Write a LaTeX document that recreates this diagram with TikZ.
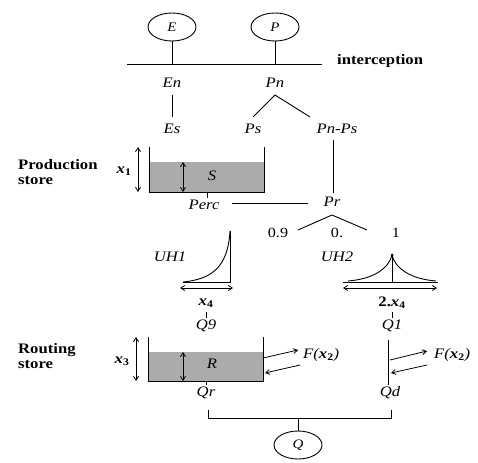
\documentclass[tikz,border=0pt]{standalone}
\usepackage{fontspec}
\setmainfont{Liberation Serif}[FakeStretch=1.15]
\usetikzlibrary{shapes.geometric,arrows.meta}
\begin{document}
\begin{tikzpicture}[x=1pt,y=-1pt,
  lbl/.style={inner sep=2pt,font=\fontsize{14.5}{16}\selectfont\itshape},
  bxl/.style={inner sep=1pt,font=\fontsize{14.5}{16}\selectfont\bfseries},
  numl/.style={inner sep=1pt,font=\fontsize{14}{16}\selectfont},
  xl/.style={inner sep=0pt,font=\fontsize{14.5}{16}\selectfont\bfseries\itshape},
  sidelbl/.style={inner sep=0pt,anchor=west,align=left,font=\fontsize{14.5}{15}\selectfont\bfseries},
  circ/.style={ellipse,draw,line width=0.9pt,minimum width=48pt,minimum height=28pt,inner sep=0pt,font=\fontsize{13}{14}\selectfont\itshape},
  ln/.style={line width=0.9pt},
  dbl/.style={line width=0.8pt,{Straight Barb[length=4pt,width=5pt]}-{Straight Barb[length=4pt,width=5pt]}},
  sarr/.style={line width=0.8pt,-{Straight Barb[length=4pt,width=5pt]}},
  water/.style={fill=black!33}]
\useasboundingbox (0,0) rectangle (478,462);
% top
\node[circ] (E) at (172,27) {E};
\node[circ] (P) at (275,27) {P};
\coordinate (hl) at (127,64);
\coordinate (hr) at (322,64);
\coordinate (eJ) at (172,64);
\coordinate (pJ) at (275,64);
\draw[ln] (hl) -- (hr);
\draw[ln] (E) -- (eJ);
\draw[ln] (P) -- (pJ);
\node[bxl,anchor=west] (icp) at (336,61) {interception};
\node[lbl] (En) at (172,83) {En};
\node[lbl] (Pn) at (275,83) {Pn};
\node[lbl] (Es) at (172,129) {Es};
\node[lbl] (Ps) at (253,129) {Ps};
\node[lbl] (PnPs) at (337,129) {Pn-Ps};
\coordinate (enB) at (172,95);
\coordinate (esT) at (172,117);
\draw[ln] (enB) -- (esT);
\coordinate (pnA) at (275,95);
\coordinate (pnL) at (253,117);
\coordinate (pnR) at (310,117);
\draw[ln] (pnL) -- (pnA) -- (pnR);
% production store
\fill[water] (149,162) rectangle (264,192);
\coordinate (psTL) at (149,147);
\coordinate (psBL) at (149,192);
\coordinate (psBR) at (264,192);
\coordinate (psTR) at (264,147);
\draw[ln] (psTL) -- (psBL) -- (psBR) -- (psTR);
\node[lbl] (S) at (212,176) {S};
\coordinate (x1T) at (138,147);
\coordinate (x1B) at (138,192);
\draw[dbl] (x1T) -- (x1B);
\coordinate (sT) at (183,162);
\coordinate (sB) at (183,192);
\draw[dbl] (sT) -- (sB);
\node[xl] (x1) at (124,171) {x\textsubscript{\upshape 1}};
\node[sidelbl] (prodlbl) at (18,172) {Production\\store};
\coordinate (percT) at (207,192);
\coordinate (percB) at (207,198);
\draw[ln] (percT) -- (percB);
\node[lbl] (Perc) at (204,205) {Perc};
\node[lbl] (Pr) at (332,202) {Pr};
\coordinate (ppT) at (333,140);
\coordinate (ppB) at (333,193);
\draw[ln] (ppT) -- (ppB);
\coordinate (percR) at (232,203);
\coordinate (prL) at (308,203);
\draw[ln] (percR) -- (prL);
\coordinate (prA) at (332,215);
\coordinate (prL2) at (298,230);
\coordinate (prR2) at (367,230);
\draw[ln] (prL2) -- (prA) -- (prR2);
\node[numl] (n09) at (278,233) {0.9};
\node[numl] (n0) at (337,233) {0.};
\node[numl] (n1) at (396,233) {1};
% unit hydrographs
\node[lbl] (UH1) at (170,257) {UH1};
\node[lbl] (UH2) at (337,257) {UH2};
\coordinate (u1a) at (183,282);
\coordinate (u1b) at (230,282);
\coordinate (u1c) at (230,231);
\draw[ln] (u1a) -- (u1b) -- (u1c);
\draw[ln] (u1a) .. controls (214,279) and (228,265) .. (u1c);
\coordinate (u1l) at (180,288);
\coordinate (u1r) at (233,288);
\draw[dbl] (u1l) -- (u1r);
\coordinate (u2a) at (343,282);
\coordinate (u2b) at (438,282);
\coordinate (u2p) at (392,255);
\coordinate (u2m) at (392,282);
\coordinate (u2c1) at (348,281);
\coordinate (u2c2) at (436,281);
\draw[ln] (u2a) -- (u2b);
\draw[ln] (u2p) -- (u2m);
\draw[ln] (u2c1) .. controls (374,279) and (389,268) .. (u2p);
\draw[ln] (u2p) .. controls (395,268) and (410,279) .. (u2c2);
\fill (u2p) circle (1.5pt);
\coordinate (u2l) at (343,288);
\coordinate (u2r) at (437,288);
\draw[dbl] (u2l) -- (u2r);
\node[xl] (x4) at (206,303) {x\textsubscript{\upshape 4}};
\node[inner sep=1pt,font=\fontsize{14.5}{16}\selectfont\bfseries] (x4b) at (392,303) {2.\textit{x}\textsubscript{4}};
\coordinate (t1a) at (206,312);
\coordinate (t1b) at (206,318);
\coordinate (t2a) at (392,312);
\coordinate (t2b) at (392,318);
\draw[ln] (t1a) -- (t1b);
\draw[ln] (t2a) -- (t2b);
\node[lbl] (Q9) at (206,326) {Q9};
\node[lbl] (Q1) at (392,326) {Q1};
% routing store
\fill[water] (148,352) rectangle (263,381);
\coordinate (rsTL) at (148,337);
\coordinate (rsBL) at (148,381);
\coordinate (rsBR) at (263,381);
\coordinate (rsTR) at (263,337);
\draw[ln] (rsTL) -- (rsBL) -- (rsBR) -- (rsTR);
\node[lbl] (R) at (212,364) {R};
\coordinate (x3T) at (136,337);
\coordinate (x3B) at (136,381);
\draw[dbl] (x3T) -- (x3B);
\coordinate (rT) at (183,352);
\coordinate (rB) at (183,381);
\draw[dbl] (rT) -- (rB);
\node[xl] (x3) at (122,361) {x\textsubscript{\upshape 3}};
\node[sidelbl] (routlbl) at (18,356) {Routing\\store};
\coordinate (f1a) at (263,358);
\coordinate (f1b) at (298,350);
\coordinate (f1c) at (300,365);
\coordinate (f1d) at (265,373);
\draw[sarr] (f1a) -- (f1b);
\draw[sarr] (f1c) -- (f1d);
\node[lbl,anchor=west] (F1) at (301,355) {F(\textbf{\textit{x}}\textsubscript{\bfseries\upshape 2})};
\coordinate (qdT) at (388,340);
\coordinate (qdB) at (388,385);
\draw[ln] (qdT) -- (qdB);
\coordinate (f2a) at (390,360);
\coordinate (f2b) at (427,351);
\coordinate (f2c) at (427,365);
\coordinate (f2d) at (391,373);
\draw[sarr] (f2a) -- (f2b);
\draw[sarr] (f2c) -- (f2d);
\node[lbl,anchor=west] (F2) at (432,355) {F(\textbf{\textit{x}}\textsubscript{\bfseries\upshape 2})};
\coordinate (qrT) at (206,381);
\coordinate (qrB) at (206,385);
\draw[ln] (qrT) -- (qrB);
\node[lbl] (Qr) at (206,393) {Qr};
\node[lbl] (Qd) at (390,393) {Qd};
\coordinate (bl) at (208,410);
\coordinate (blb) at (208,418);
\coordinate (brb) at (391,418);
\coordinate (br) at (391,410);
\draw[ln] (bl) -- (blb) -- (brb) -- (br);
\coordinate (bm) at (298,418);
\node[circ] (Q) at (298,445) {Q};
\draw[ln] (bm) -- (Q);
\end{tikzpicture}
\end{document}
